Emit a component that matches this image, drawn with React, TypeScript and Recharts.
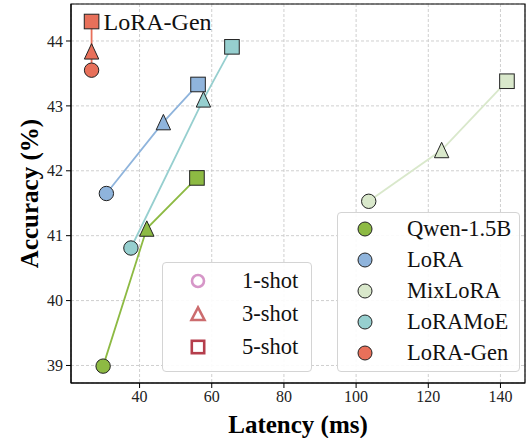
import React from 'react';
import { ScatterChart, Scatter, XAxis, YAxis, CartesianGrid, ReferenceArea, ReferenceDot } from 'recharts';

// shot count of each point, same order as the arrays below
const shots = [1, 3, 5];

const qwenLatency = [29.9, 42.0, 55.9];
const qwenAcc = [38.99, 41.11, 41.89];
const loraLatency = [30.8, 46.6, 56.2];
const loraAcc = [41.65, 42.75, 43.33];
const mixLatency = [103.5, 123.7, 141.8];
const mixAcc = [41.53, 42.32, 43.38];
const moeLatency = [37.6, 57.7, 65.6];
const moeAcc = [40.81, 43.10, 43.91];
const genLatency = [26.7, 26.7, 26.7];
const genAcc = [43.55, 43.84, 44.30];

const xTicks = [40, 60, 80, 100, 120, 140];
const yTicks = [39, 40, 41, 42, 43, 44];
const xDomain = [21.0, 146.8];
const yDomain = [38.73, 44.57];

const models = ['Qwen-1.5B', 'LoRA', 'MixLoRA', 'LoRAMoE', 'LoRA-Gen'];
const colors = ['#8dba43', '#8fb4dc', '#d9e8cb', '#96cfcf', '#e8705a'];
const shotLabels = ['1-shot', '3-shot', '5-shot'];
const shotColors = ['#d696c8', '#cc6c6e', '#b53e4c'];

const font = '"Liberation Serif", "Times New Roman", serif';

const build = (xs: number[], ys: number[]) =>
  xs.map((x, i) => ({ x, y: ys[i], shot: shots[i] }));

const series = [
  build(qwenLatency, qwenAcc),
  build(loraLatency, loraAcc),
  build(mixLatency, mixAcc),
  build(moeLatency, moeAcc),
  build(genLatency, genAcc),
];

const makeShape = (color: string) => (props: any) => {
  const { cx, cy, payload } = props;
  if (payload.shot === 1) {
    return <circle cx={cx} cy={cy} r={7.2} fill={color} stroke="#222" strokeWidth={1} />;
  }
  if (payload.shot === 3) {
    const p = `${cx},${cy - 7.7} ${cx - 7.2},${cy + 7.7} ${cx + 7.2},${cy + 7.7}`;
    return <polygon points={p} fill={color} stroke="#222" strokeWidth={1} />;
  }
  return <rect x={cx - 7.3} y={cy - 7.3} width={14.6} height={14.6} fill={color} stroke="#222" strokeWidth={1} />;
};

const boxStyle: React.CSSProperties = {
  position: 'absolute',
  background: 'rgba(255,255,255,0.9)',
  border: '1px solid #d4d4d4',
  borderRadius: 4,
  boxSizing: 'border-box',
};

const rowText: React.CSSProperties = {
  position: 'absolute',
  fontSize: 22.5,
  lineHeight: '22px',
  color: '#111',
  whiteSpace: 'nowrap',
};

const App = () => {
  return (
    <div style={{ position: 'absolute', left: 0, top: 0, width: 526, height: 438, fontFamily: font }}>
      <ScatterChart width={526} height={438} margin={{ top: 4, right: 1, bottom: 0, left: 0 }}>
        <CartesianGrid stroke="#cfcfcf" strokeDasharray="3 2" />
        <XAxis
          type="number"
          dataKey="x"
          domain={xDomain}
          ticks={xTicks}
          allowDataOverflow
          height={55}
          stroke="#000"
          tick={{ fill: '#222', fontSize: 16, fontFamily: font }}
          tickSize={5}
          tickMargin={3}
          label={{
            content: (p: any) => (
              <text x={p.viewBox.x + p.viewBox.width / 2} y={433} textAnchor="middle"
                fontSize={25} fontWeight="bold" fontFamily={font} fill="#000">
                Latency (ms)
              </text>
            ),
          }}
        />
        <YAxis
          type="number"
          dataKey="y"
          domain={yDomain}
          ticks={yTicks}
          allowDataOverflow
          width={71}
          stroke="#000"
          tick={{ fill: '#222', fontSize: 16, fontFamily: font }}
          tickSize={5}
          tickMargin={3}
          label={{
            content: (p: any) => {
              const cx = 29;
              const cy = p.viewBox.y + p.viewBox.height / 2;
              return (
                <text x={cx} y={cy} transform={`rotate(-90 ${cx} ${cy})`} textAnchor="middle"
                  dominantBaseline="central" fontSize={25} fontWeight="bold" fontFamily={font} fill="#000">
                  Accuracy (%)
                </text>
              );
            },
          }}
        />
        <ReferenceArea x1={xDomain[0]} x2={xDomain[1]} y1={yDomain[0]} y2={yDomain[1]}
          fill="none" stroke="#000" strokeWidth={1.2} fillOpacity={0} />
        {series.map((d, i) => (
          <Scatter
            key={models[i]}
            name={models[i]}
            data={d}
            line={{ stroke: colors[i], strokeWidth: 1.8 }}
            shape={makeShape(colors[i])}
            isAnimationActive={false}
          />
        ))}
        <ReferenceDot
          x={genLatency[2]}
          y={genAcc[2]}
          r={0}
          stroke="none"
          label={{
            content: (p: any) => (
              <text x={p.viewBox.x + 12} y={p.viewBox.y + 8.5} fontSize={24} fontFamily={font} fill="#111">
                LoRA-Gen
              </text>
            ),
          }}
        />
      </ScatterChart>

      <div style={{ ...boxStyle, left: 162, top: 262, width: 150, height: 110 }}>
        {shotLabels.map((s, i) => {
          const cy = 18 + i * 33;
          const c = shotColors[i];
          return (
            <React.Fragment key={s}>
              <svg style={{ position: 'absolute', left: 26, top: cy - 9 }} width={18} height={18}>
                {i === 0 && <circle cx={9} cy={9} r={6} fill="none" stroke={c} strokeWidth={2.6} />}
                {i === 1 && <polygon points="9,2.5 2.5,15 15.5,15" fill="none" stroke={c} strokeWidth={2.6} />}
                {i === 2 && <rect x={2.8} y={2.8} width={12.4} height={12.4} fill="none" stroke={c} strokeWidth={2.6} />}
              </svg>
              <span style={{ ...rowText, left: 79, top: cy - 11 }}>{s}</span>
            </React.Fragment>
          );
        })}
      </div>

      <div style={{ ...boxStyle, left: 337, top: 212, width: 183, height: 160 }}>
        {models.map((m, i) => {
          const cy = 16 + i * 31;
          return (
            <React.Fragment key={m}>
              <svg style={{ position: 'absolute', left: 18, top: cy - 9 }} width={18} height={18}>
                <circle cx={9} cy={9} r={7} fill={colors[i]} stroke="#222" strokeWidth={1} />
              </svg>
              <span style={{ ...rowText, left: 69, top: cy - 11 }}>{m}</span>
            </React.Fragment>
          );
        })}
      </div>
    </div>
  );
};

export default App;
